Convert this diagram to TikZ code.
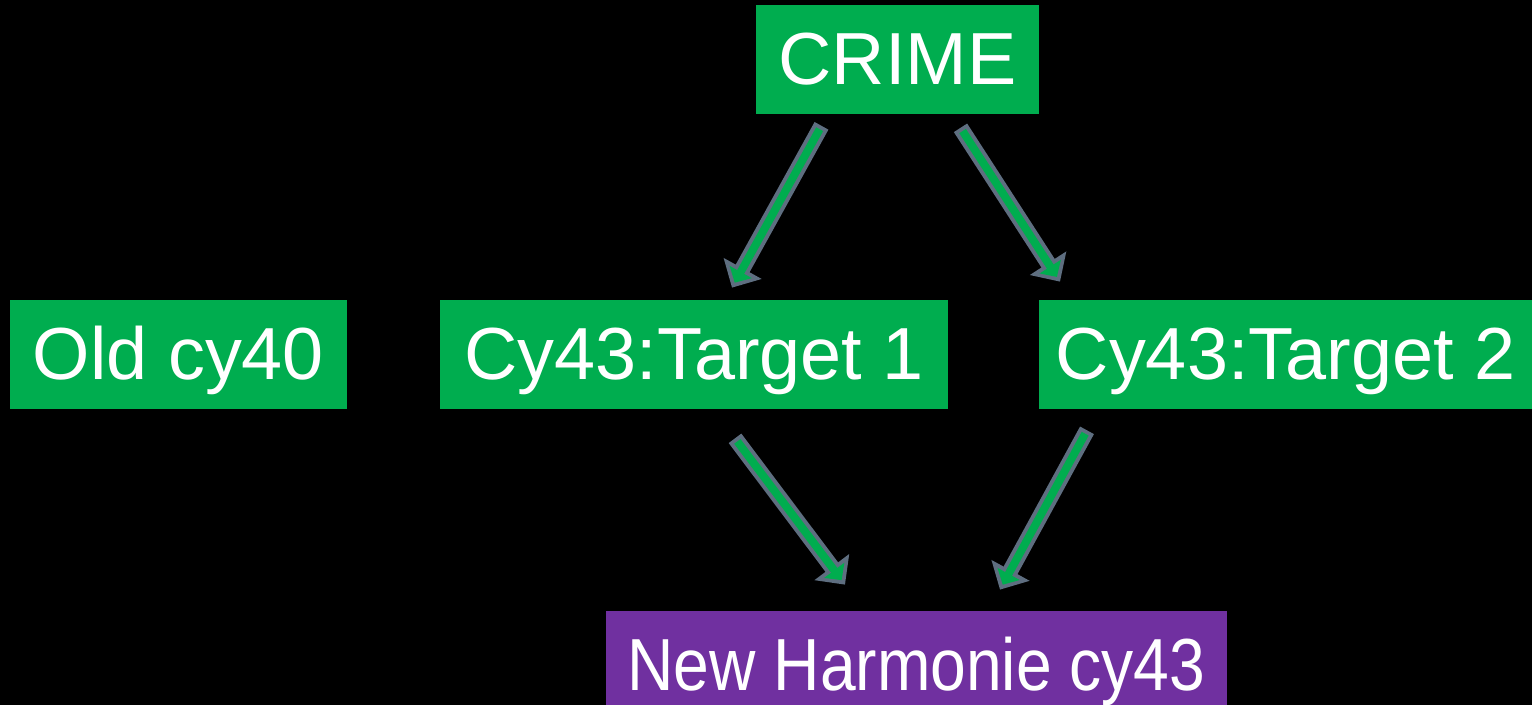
\documentclass[tikz,border=0pt]{standalone}
\usepackage{graphicx}
\usepackage{fontspec}
\setmainfont{Liberation Sans}
\usetikzlibrary{arrows.meta}
\definecolor{boxgreen}{HTML}{00AD4F}
\definecolor{boxpurple}{HTML}{7030A0}
\definecolor{edge}{HTML}{5E6E80}

\begin{document}
\begin{tikzpicture}[x=0.02cm,y=0.02cm,
  box/.style={fill=boxgreen,text=white,inner sep=0pt,minimum height=2.18cm,text height=28pt,text depth=0pt,font=\fontsize{42}{50}\selectfont},
  flow/.style={draw=boxgreen,line width=4.5pt,shorten <=2.2pt,shorten >=3.2pt,-{Triangle[width=14pt,length=7pt]},
    preaction={draw=edge,line width=9pt,shorten <=0pt,shorten >=0pt,-{Triangle[width=24pt,length=12.5pt]}}}]
  \fill[black] (0,0) rectangle (1532,705);
  \useasboundingbox (0,0) rectangle (1532,705);
  \node[box,minimum width=5.66cm] (crime) at (897.5,645) {CRIME};
  \node[box,minimum width=6.74cm] (old) at (178.5,350.5) {Old cy40};
  \node[box,minimum width=10.16cm] (tone) at (694,350.5) {Cy43:Target 1};
  \node[box,minimum width=9.86cm] (ttwo) at (1285.5,350.5) {Cy43:Target 2};
  \node[box,fill=boxpurple,minimum width=12.42cm] (harm) at (916.5,39.5) {\scalebox{0.87}[1]{New Harmonie cy43}};
  \draw[flow] ([shift={(-76,-11)}]crime.south) -- ([shift={(38,12)}]tone.north);
  \draw[flow] ([shift={(63,-13)}]crime.south) -- ([shift={(-225.5,18)}]ttwo.north);
  \draw[flow] ([shift={(41,-29)}]tone.south) -- ([shift={(-71.5,26)}]harm.north);
  \draw[flow] ([shift={(-198.5,-21)}]ttwo.south) -- ([shift={(83.5,21)}]harm.north);
\end{tikzpicture}
\end{document}
